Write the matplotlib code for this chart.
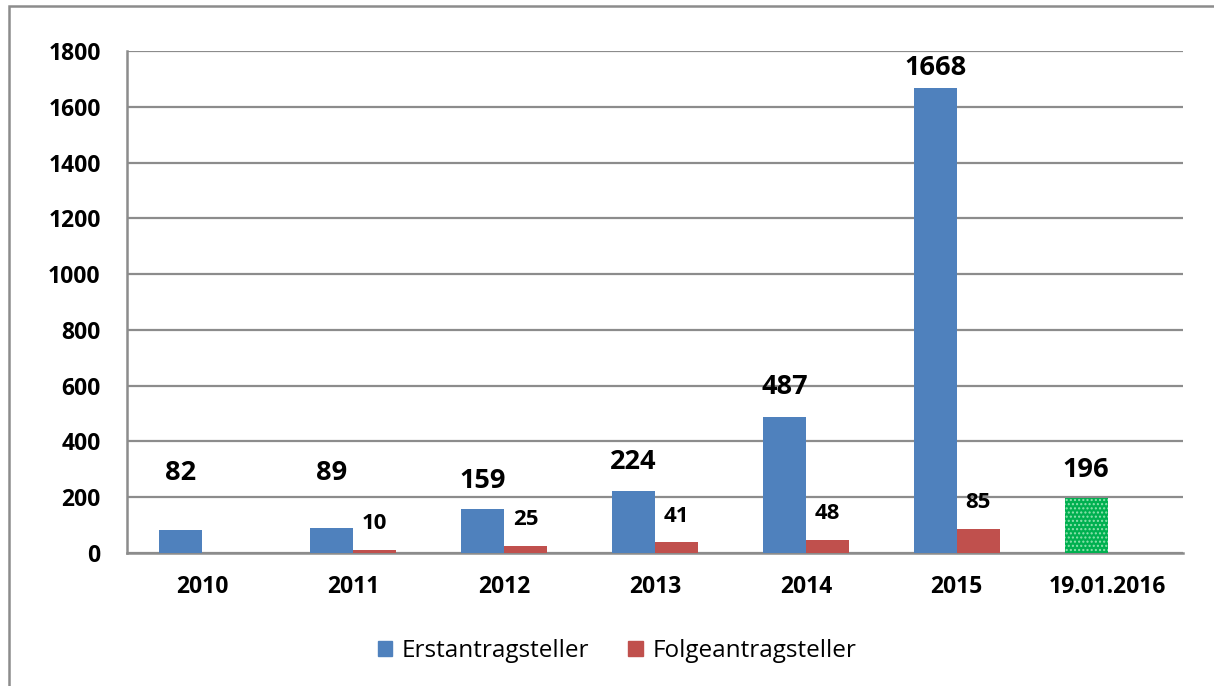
import matplotlib
matplotlib.use("Agg")
import matplotlib.pyplot as plt
import numpy as np
from matplotlib.patches import Rectangle, Patch

categories = ["2010", "2011", "2012", "2013", "2014", "2015", "19.01.2016"]
erst = [82, 89, 159, 224, 487, 1668, 196]
folge = [None, 10, 25, 41, 48, 85, None]
yticks = [0, 200, 400, 600, 800, 1000, 1200, 1400, 1600, 1800]
# label offsets above bar tops (pixels)
erst_label_off = [57, 55, 28, 29, 30, 20, 28]
folge_label_off = [27, 27, 25, 26, 27]

BLUE = "#4F81BD"
RED = "#C0504D"
GREEN = "#00B050"
GRID = "#8C8C8C"
FONT = "Open Sans"

plt.rcParams['font.family'] = [FONT, 'DejaVu Sans']
plt.rcParams['hatch.linewidth'] = 1.0

fig = plt.figure(figsize=(12.14, 6.86), dpi=100)
ax = fig.add_axes([127/1214, 1-553/686, (1183-127)/1214, (553-51)/686])

n = len(categories)
x = np.arange(n)
w = 0.285

px2pt = 72/100

for i in range(n):
    v = erst[i]
    if i == n-1:
        ax.bar(x[i]-w/2, v, w, color=GREEN, hatch='....', edgecolor='#8FE3AE', linewidth=0, zorder=3)
    else:
        ax.bar(x[i]-w/2, v, w, color=BLUE, linewidth=0, zorder=3)
    ax.annotate(str(v), (x[i]-w/2, v), xytext=(0, erst_label_off[i]*px2pt), textcoords='offset points',
                ha='center', va='center', fontsize=19.5, fontweight='bold', zorder=4)

j = 0
for i in range(n):
    v = folge[i]
    if v is None:
        continue
    ax.bar(x[i]+w/2, v, w, color=RED, linewidth=0, zorder=3)
    ax.annotate(str(v), (x[i]+w/2, v), xytext=(0, folge_label_off[j]*px2pt), textcoords='offset points',
                ha='center', va='center', fontsize=16, fontweight='bold', zorder=4)
    j += 1

ax.set_xlim(-0.5, n-0.5)
ax.set_ylim(0, 1800)
ax.set_yticks(yticks)
ax.set_yticklabels([str(t) for t in yticks])
ax.set_xticks(x)
ax.set_xticklabels(categories)
ax.tick_params(axis='both', length=0, labelsize=16.5)
ax.tick_params(axis='x', pad=16)
ax.tick_params(axis='y', pad=19)
for lab in ax.get_xticklabels() + ax.get_yticklabels():
    lab.set_fontweight('bold')

ax.grid(axis='y', color=GRID, linewidth=1.6, zorder=0)
ax.set_axisbelow(True)
for s in ['top', 'right']:
    ax.spines[s].set_visible(False)
for s in ['left', 'bottom']:
    ax.spines[s].set_color(GRID)
    ax.spines[s].set_linewidth(1.8)

handles = [Patch(color=BLUE), Patch(color=RED)]
fig.legend(handles, ["Erstantragsteller", "Folgeantragsteller"], loc='center',
           bbox_to_anchor=(617/1214, 1-651/686), ncol=2, frameon=False, fontsize=17.5,
           handlelength=0.6, handleheight=0.6, handletextpad=0.4, columnspacing=1.6)

fig.patches.append(Rectangle((9/1214, -0.1), 1.2, 1-6/686+0.1, transform=fig.transFigure,
                             fill=False, edgecolor=GRID, linewidth=1.8))

fig.savefig("out.png", dpi=100)
